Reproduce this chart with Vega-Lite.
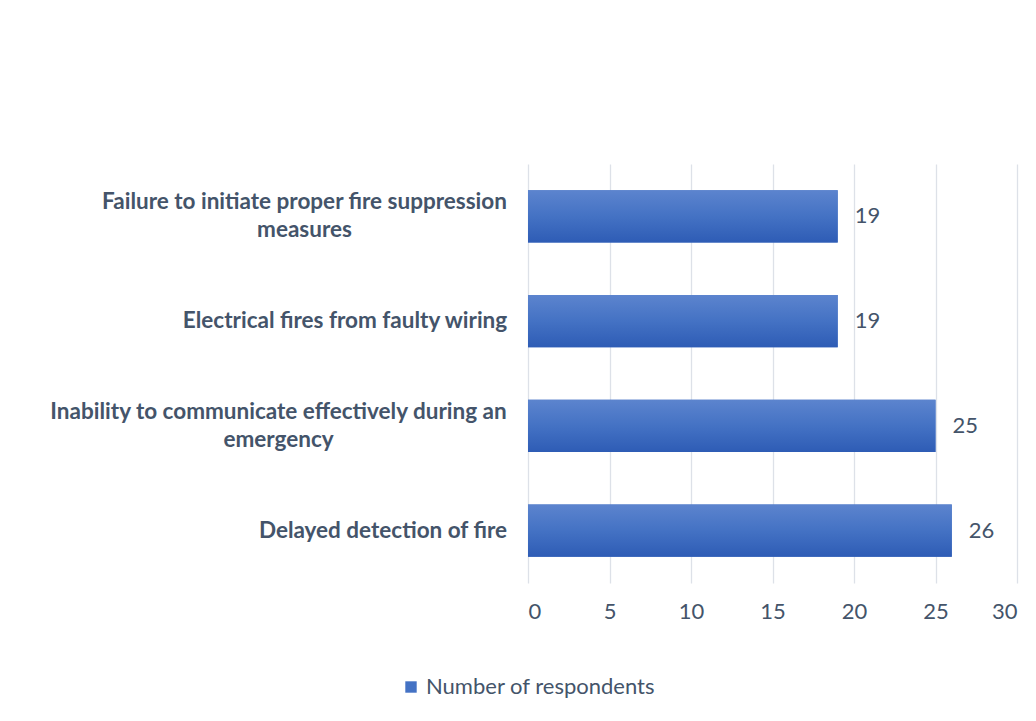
{
  "$schema": "https://vega.github.io/schema/vega-lite/v6.json",
  "autosize": "none",
  "width": 489,
  "height": 419,
  "padding": {"left": 528, "top": 164, "right": 19, "bottom": 138},
  "background": "white",
  "config": {
    "font": "Lato",
    "view": {"stroke": null},
    "axis": {"labelColor": "#44546A", "labelFont": "Lato"}
  },
  "data": {
    "values": [
      {"cause": "Failure to initiate proper fire suppression measures", "respondents": 19, "series": "Number of respondents"},
      {"cause": "Electrical fires from faulty wiring", "respondents": 19, "series": "Number of respondents"},
      {"cause": "Inability to communicate effectively during an emergency", "respondents": 25, "series": "Number of respondents"},
      {"cause": "Delayed detection of fire", "respondents": 26, "series": "Number of respondents"}
    ]
  },
  "encoding": {
    "y": {
      "field": "cause",
      "type": "nominal",
      "sort": null,
      "scale": {"paddingInner": 0.5, "paddingOuter": 0.25},
      "axis": {
        "title": null,
        "domain": false,
        "ticks": false,
        "labelAlign": "center",
        "labelPadding": {"expr": "datum.value == 'Failure to initiate proper fire suppression measures' ? 224 : datum.value == 'Inability to communicate effectively during an emergency' ? 250 : datum.value == 'Electrical fires from faulty wiring' ? 183.5 : 145.5"},
        "labelOffset": {"expr": "(datum.value == 'Failure to initiate proper fire suppression measures' || datum.value == 'Inability to communicate effectively during an emergency') ? -14 : 0"},
        "labelFontSize": 22.5,
        "labelFontWeight": "bold",
        "labelLimit": 600,
        "labelLineHeight": 28,
        "labelExpr": "datum.label == 'Failure to initiate proper fire suppression measures' ? ['Failure to initiate proper fire suppression', 'measures'] : datum.label == 'Inability to communicate effectively during an emergency' ? ['Inability to communicate effectively during an', 'emergency'] : datum.label"
      }
    },
    "x": {
      "field": "respondents",
      "type": "quantitative",
      "scale": {"domain": [0, 30]},
      "axis": {
        "title": null,
        "values": [0, 5, 10, 15, 20, 25, 30],
        "domain": false,
        "ticks": false,
        "grid": true,
        "gridColor": "#DDE1E8",
        "gridWidth": 1.3,
        "labelFontSize": 22,
        "labelPadding": 18
      }
    }
  },
  "layer": [
    {
      "mark": {"type": "bar"},
      "encoding": {
        "color": {
          "field": "series",
          "type": "nominal",
          "scale": {"range": ["#4472C4"]},
          "legend": {
            "title": null,
            "orient": "none",
            "legendX": -128,
            "legendY": 512,
            "symbolType": "square",
            "symbolSize": 130,
            "symbolStrokeWidth": 0,
            "labelFontSize": 22,
            "labelLimit": 500,
            "labelColor": "#44546A",
            "labelFont": "Lato"
          }
        }
      }
    },
    {
      "mark": {
        "type": "bar",
        "color": {
          "gradient": "linear",
          "x1": 0, "y1": 0, "x2": 0, "y2": 1,
          "stops": [
            {"offset": 0, "color": "#5C84CE"},
            {"offset": 0.5, "color": "#4472C4"},
            {"offset": 1, "color": "#2E5CB5"}
          ]
        }
      }
    },
    {
      "mark": {"type": "text", "align": "left", "baseline": "middle", "dx": 17, "fontSize": 22, "color": "#44546A", "font": "Lato"},
      "encoding": {"text": {"field": "respondents", "type": "quantitative"}}
    }
  ]
}
